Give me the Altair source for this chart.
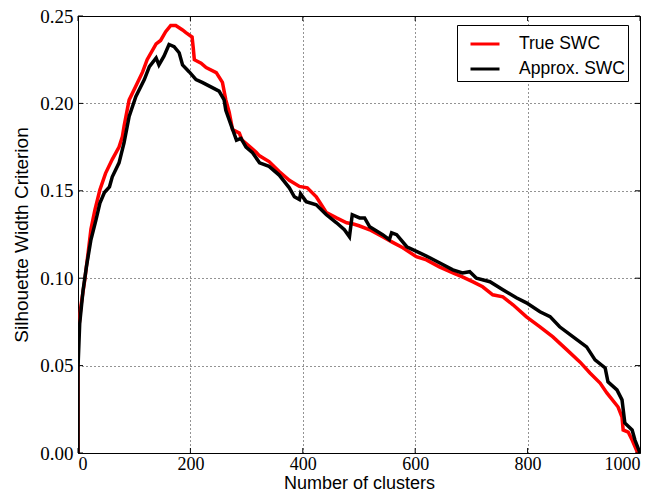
import altair as alt
import pandas as pd

# ---- data ----
true_x = [0, 0, 5, 12, 18, 23, 30, 39, 49, 61, 73, 79, 82, 91, 103, 115, 123, 139, 147, 156,
          165, 174, 186, 192, 203, 205, 207, 219, 228, 246, 257, 263, 269, 275, 287, 292, 305,
          317, 323, 340, 358, 376, 394, 408, 424, 433, 442, 460, 478, 490, 500, 519, 542, 560,
          578, 602, 620, 643, 667, 684, 702, 720, 738, 756, 774, 798, 822, 845, 870, 893, 911,
          929, 941, 947, 961, 968, 970, 979, 986, 996]
true_y = [0.0, 0.066, 0.0836, 0.099, 0.1145, 0.128, 0.139, 0.1506, 0.160, 0.168, 0.175, 0.181,
          0.187, 0.202, 0.210, 0.218, 0.225, 0.234, 0.236, 0.241, 0.2446, 0.2446, 0.242, 0.2405,
          0.238, 0.232, 0.225, 0.223, 0.2205, 0.2176, 0.212, 0.202, 0.195, 0.185, 0.183, 0.179,
          0.1755, 0.172, 0.170, 0.1667, 0.161, 0.156, 0.1525, 0.1517, 0.1466, 0.142, 0.1375,
          0.1345, 0.1317, 0.131, 0.130, 0.1277, 0.1237, 0.1205, 0.1174, 0.1123, 0.1105, 0.1065,
          0.103, 0.1008, 0.098, 0.0951, 0.0905, 0.0893, 0.0848, 0.0779, 0.0722, 0.0664, 0.059,
          0.0521, 0.0458, 0.040, 0.0344, 0.032, 0.0263, 0.0206, 0.0132, 0.012, 0.0074, 0.0]

approx_x = [0, 0, 3, 9, 15, 23, 32, 39, 47, 56, 61, 73, 82, 91, 103, 118, 127, 139, 144, 153,
            162, 171, 180, 186, 198, 210, 221, 239, 251, 260, 263, 273, 282, 290, 299, 310, 323,
            340, 358, 376, 385, 394, 396, 406, 424, 442, 460, 474, 483, 488, 501, 510, 519, 542,
            554, 558, 567, 585, 608, 626, 643, 667, 684, 697, 709, 733, 756, 780, 798, 822, 840,
            857, 881, 905, 920, 938, 943, 959, 968, 973, 986, 991, 1000]
approx_y = [0.0, 0.049, 0.074, 0.093, 0.1066, 0.122, 0.1334, 0.143, 0.149, 0.1523, 0.158, 0.166,
            0.1775, 0.1925, 0.204, 0.2136, 0.221, 0.226, 0.222, 0.227, 0.2337, 0.2325, 0.229,
            0.222, 0.218, 0.2136, 0.212, 0.209, 0.207, 0.202, 0.196, 0.187, 0.179, 0.180, 0.175,
            0.172, 0.166, 0.164, 0.159, 0.1517, 0.1466, 0.145, 0.1483, 0.1438, 0.142, 0.1363,
            0.1317, 0.1277, 0.1237, 0.1363, 0.1345, 0.1345, 0.1294, 0.1249, 0.122, 0.126, 0.1249,
            0.118, 0.1145, 0.1117, 0.1088, 0.1048, 0.103, 0.1037, 0.100, 0.098, 0.0934, 0.0888,
            0.0859, 0.0808, 0.078, 0.0722, 0.0664, 0.0607, 0.0533, 0.0487, 0.0407, 0.0361, 0.0304,
            0.0172, 0.0132, 0.0074, 0.0]

series_names = ["True SWC", "Approx. SWC"]
series_colors = ["#ff0000", "#000000"]
x_ticks = [0, 200, 400, 600, 800, 1000]
y_ticks = [0.0, 0.05, 0.10, 0.15, 0.20, 0.25]

rows = []
for name, xs, ys in [(series_names[0], true_x, true_y), (series_names[1], approx_x, approx_y)]:
    for i, (a, b) in enumerate(zip(xs, ys)):
        rows.append({"series": name, "x": a, "y": b, "idx": i})
df = pd.DataFrame(rows)
xt = pd.DataFrame({"x": x_ticks})
yt = pd.DataFrame({"y": y_ticks})

W, H = 562, 437

xscale = alt.Scale(domain=[0, 1000], nice=False, zero=False)
yscale = alt.Scale(domain=[0, 0.25], nice=False, zero=False)
xaxis = alt.Axis(values=x_ticks, format="d", title="Number of clusters", grid=True)
yaxis = alt.Axis(values=y_ticks, format=".2f", title="Silhouette Width Criterion", grid=True)

lines = alt.Chart(df).mark_line(strokeWidth=3.5, clip=True).encode(
    x=alt.X("x:Q", scale=xscale, axis=xaxis),
    y=alt.Y("y:Q", scale=yscale, axis=yaxis),
    color=alt.Color("series:N", scale=alt.Scale(domain=series_names, range=series_colors),
                    legend=alt.Legend(title=None)),
    order=alt.Order("idx:Q"),
    detail="series:N",
)

tick_len = 5
xb = alt.Chart(xt).mark_rule(color="black", strokeWidth=1).encode(
    x=alt.X("x:Q", scale=xscale, axis=xaxis), y=alt.value(H), y2=alt.value(H - tick_len))
xtop = alt.Chart(xt).mark_rule(color="black", strokeWidth=1).encode(
    x=alt.X("x:Q", scale=xscale, axis=xaxis), y=alt.value(0), y2=alt.value(tick_len))
yl = alt.Chart(yt).mark_rule(color="black", strokeWidth=1).encode(
    y=alt.Y("y:Q", scale=yscale, axis=yaxis), x=alt.value(0), x2=alt.value(tick_len))
yr = alt.Chart(yt).mark_rule(color="black", strokeWidth=1).encode(
    y=alt.Y("y:Q", scale=yscale, axis=yaxis), x=alt.value(W), x2=alt.value(W - tick_len))

chart = alt.layer(lines, xb, xtop, yl, yr).properties(
    width=W, height=H,
    autosize=alt.AutoSizeParams(type="none"),
    padding={"left": 70, "top": 8, "right": 12, "bottom": 38},
).configure_view(
    stroke="black", strokeWidth=1
).configure_axis(
    domain=False, ticks=False,
    gridColor="black", gridDash=[1, 3], gridWidth=1, gridOpacity=0.85,
    labelFont="Liberation Serif", labelFontSize=19, labelColor="black",
    titleFont="Liberation Sans", titleFontSize=18, titleFontWeight="normal", titleColor="black",
).configure_axisY(
    labelPadding=5, titleX=-51, titleBaseline="alphabetic", titleFontSize=19
).configure_axisX(
    labelFontSize=18, labelPadding=2, titleY=35, titleBaseline="alphabetic"
).configure_legend(
    orient="none", legendX=379, legendY=9,
    strokeColor="black", fillColor="white", cornerRadius=0, padding=3,
    symbolType="M-1,0L1,0", symbolSize=841, symbolStrokeWidth=3, symbolOffset=9,
    labelFont="Liberation Sans", labelFontSize=17.5, labelColor="black",
    labelOffset=18, rowPadding=-1,
)

chart.save("out.html", embed_options={"renderer": "svg", "actions": False})
